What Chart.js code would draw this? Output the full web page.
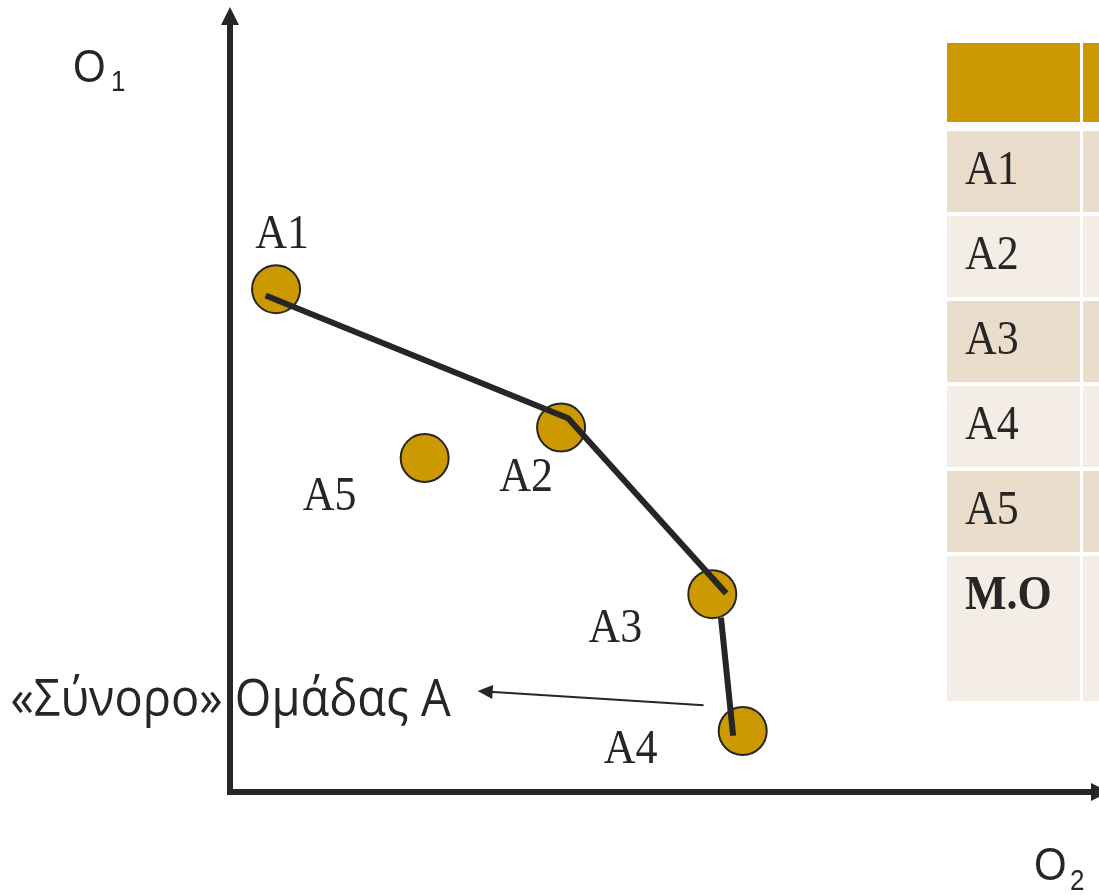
<!DOCTYPE html>
<html>
<head>
<meta charset="utf-8">
<script src="https://cdn.jsdelivr.net/npm/chart.js@4.4.0/dist/chart.umd.min.js"></script>
<style>
  html, body { margin: 0; padding: 0; background: #fff; }
  #wrap { position: relative; width: 1099px; height: 895px; overflow: hidden; }
</style>
</head>
<body>
<div id="wrap"><canvas id="myChart" width="1099" height="895"></canvas></div>
<script>
// alternatives, scored on O2 (x) and O1 (y)
var names = ['A1', 'A2', 'A3', 'A4', 'A5'];
var o2Values = [5.3, 38.1, 55.5, 59.0, 22.4];
var o1Values = [64.3, 46.6, 25.3, 7.8, 42.7];

// group A frontier (null = break in the line)
var frontierO2 = [4.1, 38.9, 57.1, null, 56.5, 57.9];
var frontierO1 = [63.5, 47.8, 25.4, null, 22.3, 7.2];

// boundary pointer, from near A4 back to its caption
var arrowO2 = [54.5, 28.5];
var arrowO1 = [11.1, 12.9];
var boundaryText = '\u00abΣύνορο\u00bb Ομάδας Α';

var tableRows = ['A1', 'A2', 'A3', 'A4', 'A5', 'M.O'];

// label offsets from each point centre (px), baseline anchored
var labelOffsets = [[6, -41], [-35, 63], [-97, 48], [-112, 32], [-95, 52]];

var INK = '#262626';
var GOLD = '#CC9900';
var SY = 1.12; // text is drawn a bit taller than wide

function drawText(ctx, str, x, y, font, align, sy) {
  ctx.save();
  ctx.translate(x, y);
  ctx.scale(1, sy || SY);
  ctx.font = font;
  ctx.textAlign = align || 'left';
  ctx.textBaseline = 'alphabetic';
  ctx.fillStyle = INK;
  ctx.fillText(str, 0, 0);
  ctx.restore();
}

function arrowHead(ctx, tx, ty, angle, len, half) {
  ctx.save();
  ctx.translate(tx, ty);
  ctx.rotate(angle);
  ctx.beginPath();
  ctx.moveTo(0, 0);
  ctx.lineTo(-len, -half);
  ctx.lineTo(-len, half);
  ctx.closePath();
  ctx.fill();
  ctx.restore();
}

var decorations = {
  id: 'decorations',
  afterDraw: function(chart) {
    var ctx = chart.ctx;
    var xs = chart.scales.x, ys = chart.scales.y;
    var area = chart.chartArea;
    var x0 = xs.getPixelForValue(0), y0 = ys.getPixelForValue(0);

    ctx.save();
    ctx.strokeStyle = INK;
    ctx.fillStyle = INK;

    // axes with arrow heads
    ctx.lineWidth = 6;
    ctx.beginPath();
    ctx.moveTo(x0, y0 + 3);
    ctx.lineTo(x0, area.top + 12);
    ctx.moveTo(x0 - 3, y0);
    ctx.lineTo(area.right - 4, y0);
    ctx.stroke();
    arrowHead(ctx, x0, area.top - 3, -Math.PI / 2, 18, 9);
    arrowHead(ctx, area.right + 10, y0, 0, 18, 9);

    // axis titles
    drawText(ctx, 'O', 73, 82, '42px "Liberation Sans"');
    drawText(ctx, '1', 111, 91, '26px "Liberation Sans"');
    drawText(ctx, 'O', 1034, 880, '42px "Liberation Sans"');
    drawText(ctx, '2', 1070, 890, '26px "Liberation Sans"');

    // point names
    var meta = chart.getDatasetMeta(1);
    meta.data.forEach(function(pt, i) {
      drawText(ctx, names[i], pt.x + labelOffsets[i][0], pt.y + labelOffsets[i][1],
        '44px "Liberation Serif"', 'center');
    });

    // boundary pointer
    var ax0 = xs.getPixelForValue(arrowO2[0]), ay0 = ys.getPixelForValue(arrowO1[0]);
    var ax1 = xs.getPixelForValue(arrowO2[1]), ay1 = ys.getPixelForValue(arrowO1[1]);
    var ang = Math.atan2(ay1 - ay0, ax1 - ax0);
    ctx.lineWidth = 2;
    ctx.beginPath();
    ctx.moveTo(ax0, ay0);
    ctx.lineTo(ax1 - Math.cos(ang) * 12, ay1 - Math.sin(ang) * 12);
    ctx.stroke();
    arrowHead(ctx, ax1, ay1, ang, 15, 7);
    drawText(ctx, boundaryText, ax1 - 27, ay1 + 25, '47px "Open Sans"', 'right', 1.07);

    // side table (first column, second column cut at the edge)
    var top = 43;
    ctx.fillStyle = GOLD;
    ctx.fillRect(947, top, 133, 79);
    ctx.fillRect(1083, top, 40, 79);
    top = 131;
    tableRows.forEach(function(label, i) {
      var h = i === tableRows.length - 1 ? 145 : 81;
      ctx.fillStyle = i % 2 === 0 ? '#EBDDCB' : '#F4EDE6';
      ctx.fillRect(947, top, 133, h);
      ctx.fillRect(1083, top, 40, h);
      var bold = label === 'M.O' ? 'bold ' : '';
      drawText(ctx, label, 965, top + 53, bold + '44px "Liberation Serif"');
      top += h + 4;
    });

    ctx.restore();
  }
};

var ctx = document.getElementById('myChart');

var myChart = new Chart(ctx, {
  type: 'scatter',
  data: {
    datasets: [{
      label: 'frontier',
      data: frontierO2.map(function(x, i) {
        return x === null ? { x: NaN, y: NaN } : { x: x, y: frontierO1[i] };
      }),
      showLine: true,
      spanGaps: false,
      borderColor: INK,
      borderWidth: 6,
      borderCapStyle: 'butt',
      pointRadius: 0,
      order: 0
    }, {
      label: 'alternatives',
      data: o2Values.map(function(x, i) {
        return { x: x, y: o1Values[i] };
      }),
      backgroundColor: GOLD,
      borderColor: INK,
      borderWidth: 2,
      pointRadius: 24,
      order: 1
    }]
  },
  options: {
    responsive: false,
    animation: false,
    events: [],
    layout: { autoPadding: false, padding: { left: 230, top: 10, right: 0, bottom: 103 } },
    plugins: { legend: { display: false }, tooltip: { enabled: false } },
    scales: {
      x: { type: 'linear', min: 0, max: 100, display: false },
      y: { type: 'linear', min: 0, max: 100, display: false }
    }
  },
  plugins: [decorations]
});
</script>
</body>
</html>
